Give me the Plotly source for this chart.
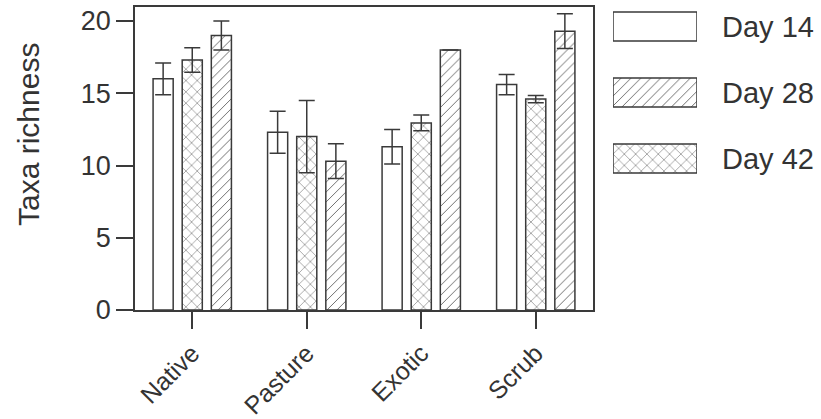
import plotly.graph_objects as go

categories = ["Native", "Pasture", "Exotic", "Scrub"]
series_names = ["Day 14", "Day 28", "Day 42"]
day14 = [16.0, 12.3, 11.3, 15.6]
day14_err = [1.1, 1.45, 1.2, 0.7]
day28 = [19.0, 10.3, 18.0, 19.3]
day28_err = [1.0, 1.2, None, 1.2]
day42 = [17.3, 12.0, 12.95, 14.6]
day42_err = [0.85, 2.5, 0.55, 0.25]
y_ticks = [0, 5, 10, 15, 20]

INK = "#3a3a3a"
FONT = "Liberation Sans"
patterns = {"Day 14": "", "Day 28": "/", "Day 42": "x"}
psize = {"Day 14": 8, "Day 28": 7, "Day 42": 8}

def marker(name):
    return dict(color="white", line=dict(color=INK, width=1.5),
                pattern=dict(shape=patterns[name], fgcolor="#555555", bgcolor="white",
                             size=psize[name], solidity=0.12))

fig = go.Figure()
# Bar order within each group as in reference: Day 14, Day 42, Day 28
for name, vals, errs in [("Day 14", day14, day14_err), ("Day 42", day42, day42_err),
                         ("Day 28", day28, day28_err)]:
    fig.add_trace(go.Bar(
        x=categories, y=vals, name=name, marker=marker(name), showlegend=False,
        error_y=dict(type="data", array=errs, visible=True, color=INK, thickness=1.5, width=8),
        xaxis="x", yaxis="y"))

# custom legend boxes
for i, name in enumerate(series_names):
    fig.add_trace(go.Bar(
        x=[1], y=[i], orientation="h", width=0.44, marker=marker(name), showlegend=False,
        xaxis="x2", yaxis="y2", hoverinfo="skip"))

W, H = 821, 419
ml, mr, mt, mb = 135, 5, 7, 109
pw = W - ml - mr
ph = H - mt - mb

def px_x(p):
    return (p - ml) / pw

def px_y(p):
    return (H - mb - p) / ph

axis_common = dict(showline=True, linecolor=INK, linewidth=1.5, mirror=True,
                   ticks="outside", ticklen=17, tickwidth=1.5, tickcolor=INK,
                   showgrid=False, zeroline=False, automargin=False)

fig.update_layout(
    template="none",
    width=W, height=H,
    margin=dict(l=ml, r=mr, t=mt, b=mb),
    paper_bgcolor="white", plot_bgcolor="white",
    barmode="group", bargap=0.237, bargroupgap=0.31,
    xaxis=dict(domain=[0, px_x(593)], range=[-0.5, 3.5], tickangle=-45,
               tickfont=dict(family=FONT, size=25, color="#333333"), **axis_common),
    yaxis=dict(range=[0, 20.97], tickvals=y_ticks,
               tickfont=dict(family=FONT, size=27, color="#333333"), **axis_common),
    xaxis2=dict(domain=[px_x(613), px_x(697)], range=[0, 1], visible=False, anchor="y2",
                automargin=False),
    yaxis2=dict(domain=[px_y(200), 1], range=[(200 - 26.5) / 66, (7 - 26.5) / 66],
                visible=False, anchor="x2", automargin=False),
    showlegend=False,
)

annotations = [dict(text="Taxa richness", textangle=-90, xref="paper", yref="paper",
                    x=px_x(28), y=px_y(135), xanchor="center", yanchor="middle",
                    showarrow=False, font=dict(family=FONT, size=30, color="#333333"))]
for i, name in enumerate(series_names):
    annotations.append(dict(text=name, xref="paper", yref="y2", x=px_x(720), y=i,
                            xanchor="left", yanchor="middle", showarrow=False,
                            font=dict(family=FONT, size=29, color="#333333")))
fig.update_layout(annotations=annotations)

fig.write_html("out.html")
